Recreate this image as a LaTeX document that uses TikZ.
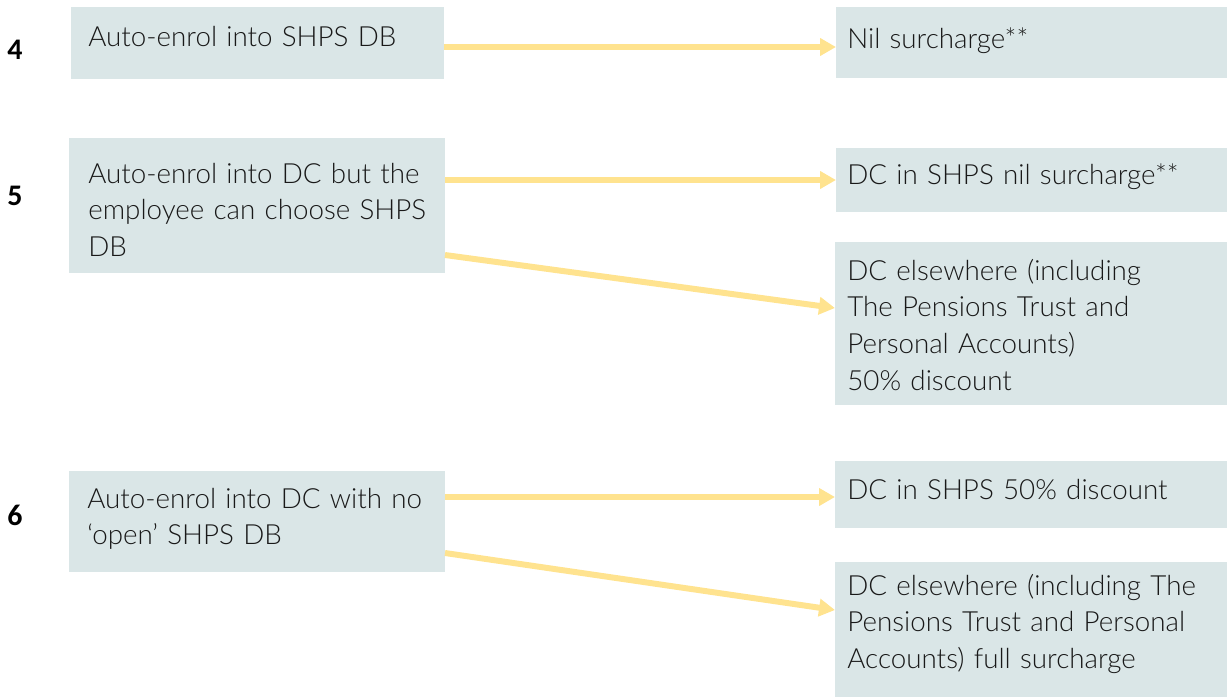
\documentclass[tikz,border=0pt]{standalone}
\usepackage{fontspec}
\setmainfont{Lato}[UprightFont=* Light]
\newfontfamily\numfont{Carlito}
\usepackage{tikz}
\usetikzlibrary{arrows.meta,fit}

\definecolor{boxfill}{HTML}{DAE6E7}
\definecolor{arrowyellow}{HTML}{FFE38F}

\tikzset{
	box/.style={fill=boxfill,inner sep=0pt,outer sep=0pt},
	boxtext/.style={anchor=base west,inner sep=0pt,text width=7.6cm,align=left,
		font=\fontsize{15.8}{21}\selectfont,text=black!90},
	rownum/.style={font=\numfont\bfseries\fontsize{17}{18}\selectfont},
	flow/.style={arrowyellow,line width=3.4pt,-{Triangle[width=0.34cm,length=0.32cm]}}
}

\begin{document}
\begin{tikzpicture}[x=0.02cm,y=-0.02cm]
\useasboundingbox (0,0) rectangle (1227,697);

% left column
\node[box,fit={(71,7) (444,79)}] (l4) {};
\node[box,fit={(69,138) (445,273)}] (l5) {};
\node[box,fit={(69,471) (445,572)}] (l6) {};

% right column
\node[box,fit={(836,7) (1227,78)}] (r4) {};
\node[box,fit={(836,148) (1227,212)}] (r5a) {};
\node[box,fit={(835,242) (1227,405)}] (r5b) {};
\node[box,fit={(835,461) (1227,528)}] (r6a) {};
\node[box,fit={(835,562) (1227,697)}] (r6b) {};

\node[rownum] (n4) at (15,50) {4};
\node[rownum] (n5) at (15,196) {5};
\node[rownum] (n6) at (15,515) {6};

\node[boxtext] (t4) at (88,46) {Auto-enrol into SHPS DB};
\node[boxtext] (t5) at (88,183) {Auto-enrol into DC but the\\employee can choose SHPS\\DB};
\node[boxtext] (t6) at (87,508) {Auto-enrol into DC with no\\`open' SHPS DB};

\node[boxtext] (s4) at (847,48) {Nil surcharge**};
\node[boxtext] (s5a) at (847,184) {DC in SHPS nil surcharge**};
\node[boxtext] (s5b) at (847,280) {DC elsewhere (including\\The Pensions Trust and\\Personal Accounts)\\50\% discount};
\node[boxtext] (s6a) at (847,499) {DC in SHPS 50\% discount};
\node[boxtext] (s6b) at (847,595) {DC elsewhere (including The\\Pensions Trust and Personal\\Accounts) full surcharge};

\draw[flow] (l4.east |- 0,47) -- (r4.west |- 0,47);
\draw[flow] (l5.east |- 0,180) -- (r5a.west |- 0,180);
\draw[flow] (l5.east |- 0,255) -- (r5b.west |- 0,308);
\draw[flow] (l6.east |- 0,497) -- (r6a.west |- 0,497);
\draw[flow] (l6.east |- 0,553) -- (r6b.west |- 0,610);
\end{tikzpicture}
\end{document}
